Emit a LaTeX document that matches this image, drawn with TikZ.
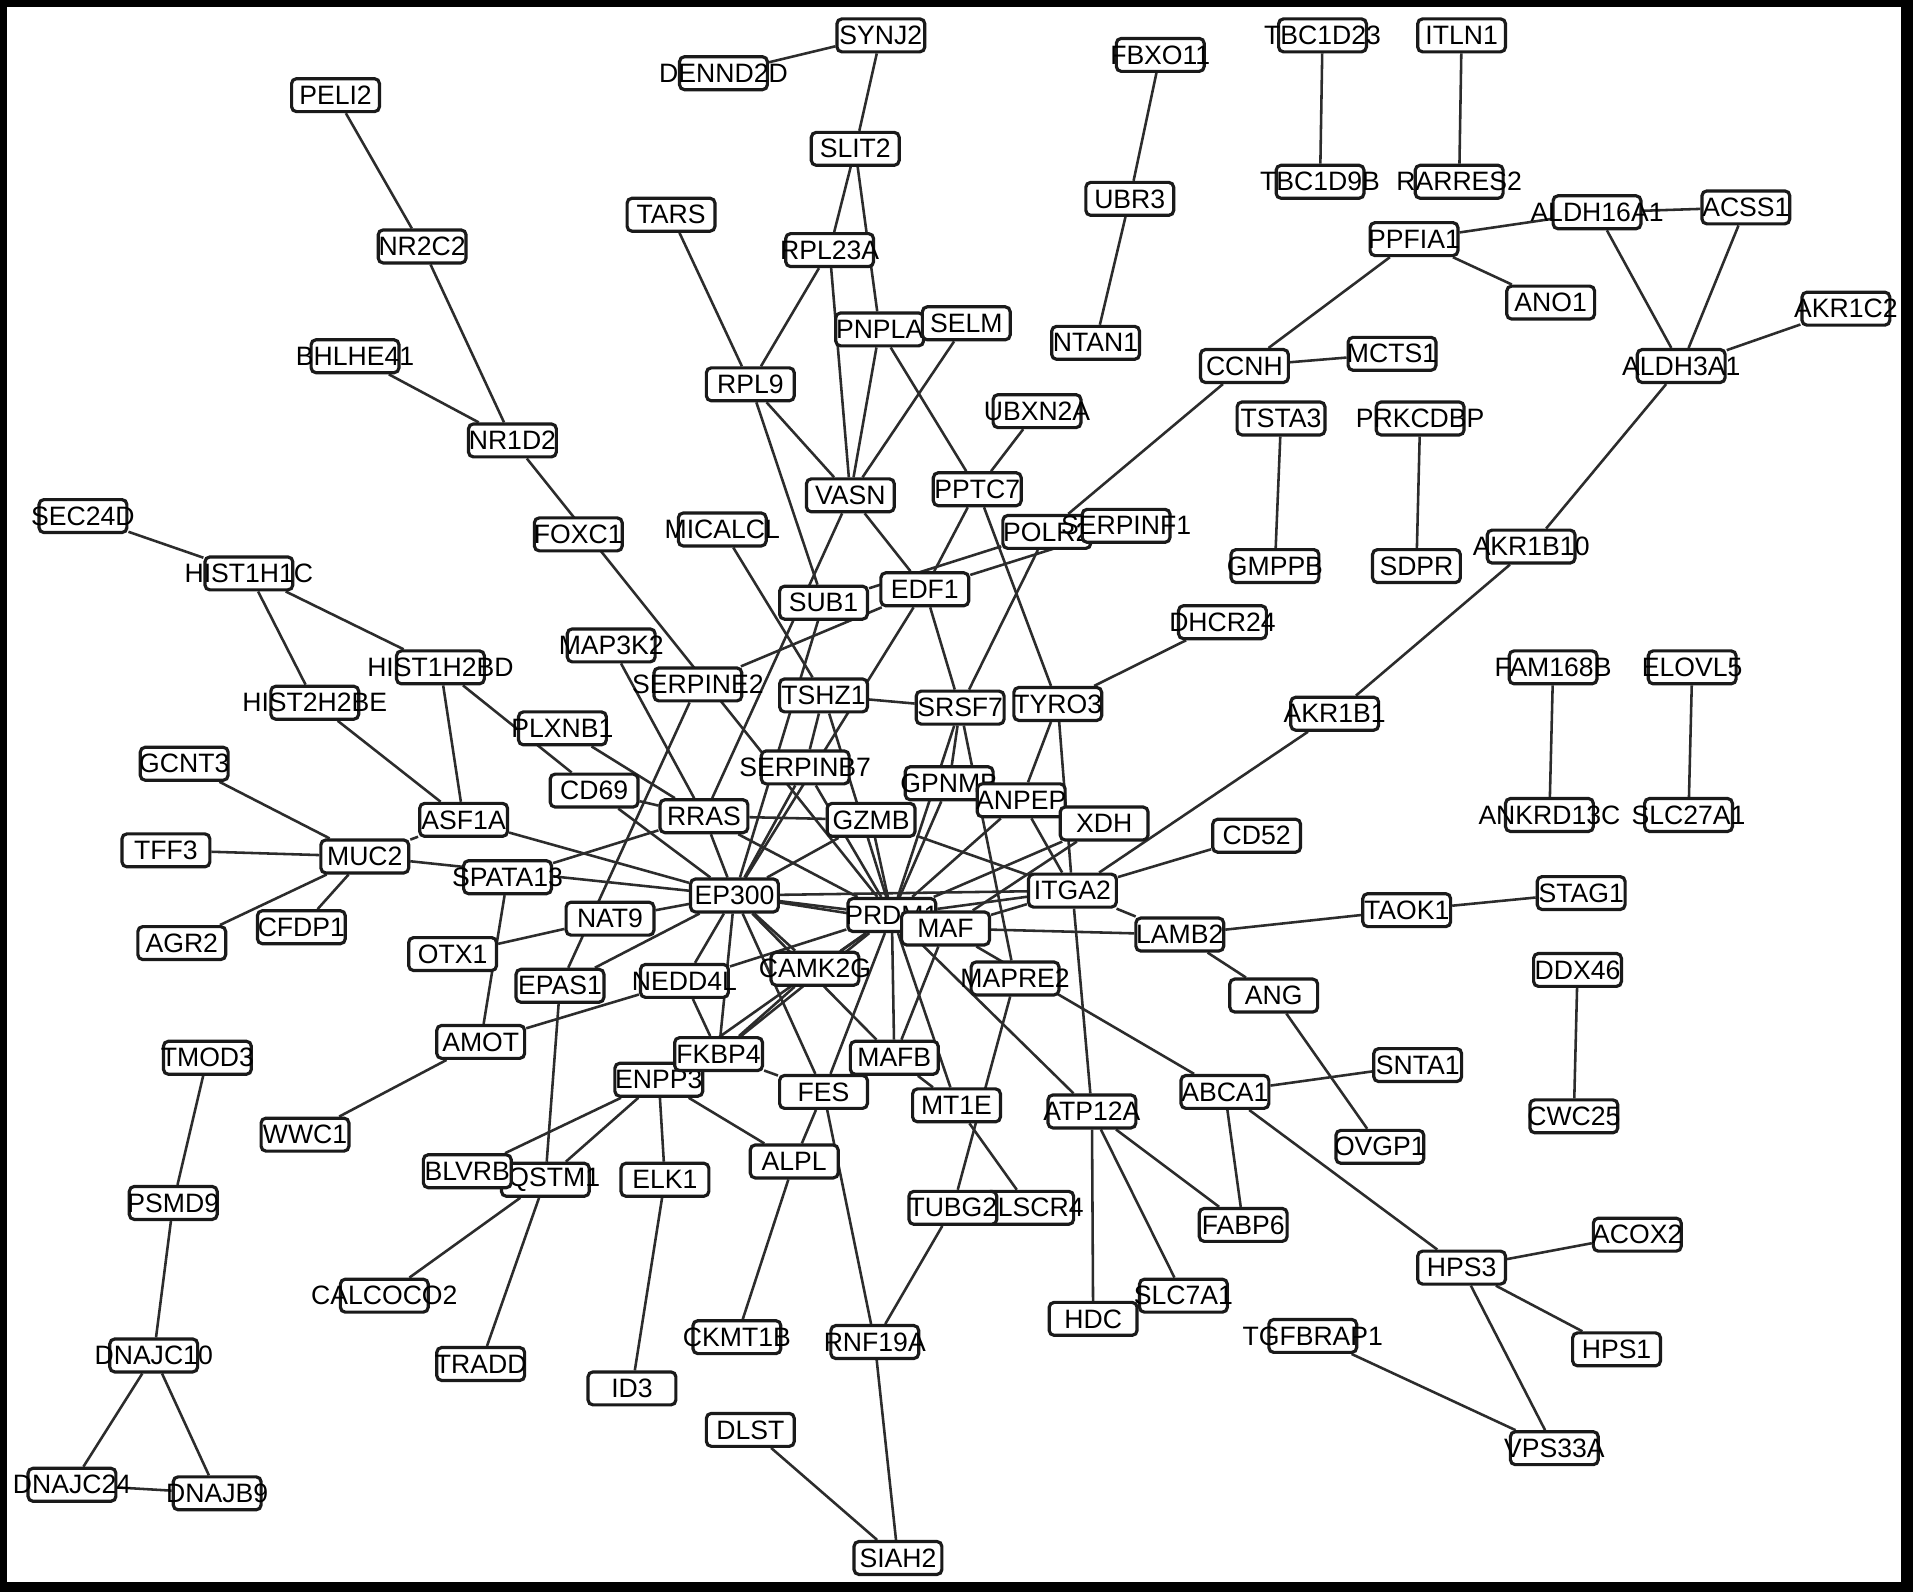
\documentclass[tikz,border=0pt]{standalone}
\usepackage{fontspec}
\setmainfont{Liberation Sans}
\definecolor{linkcol}{HTML}{2C2C2C}
\definecolor{boxcol}{HTML}{1A1A1A}
\pgfdeclarelayer{framelayer}
\pgfdeclarelayer{edgelayer}
\pgfsetlayers{framelayer,edgelayer,main}
\newcommand\genenode[3]{\node[gene] (#1) at (#2) {\makebox[0pt]{#3}};}
\begin{document}
\begin{tikzpicture}[x=0.5pt,y=-0.5pt,
  gene/.style={draw=boxcol, fill=white, rounded corners=2pt, line width=1.3pt,
    minimum width=36pt, minimum height=13.5pt, inner sep=0pt,
    font=\fontsize{10.9}{12}\selectfont, text=black},
  link/.style={draw=linkcol, line width=1.05pt}]
\useasboundingbox (0,0) rectangle (1568,1305);
\begin{pgfonlayer}{framelayer}
\fill[black] (0,0) rectangle (1568,1305);
\fill[white] (6,6) rectangle (1558,1297);
\end{pgfonlayer}
% ---- nodes ----
\genenode{PELI2}{275,78}{PELI2}
\genenode{NR2C2}{346,202}{NR2C2}
\genenode{BHLHE41}{291,292}{BHLHE41}
\genenode{NR1D2}{420,361}{NR1D2}
\genenode{SEC24D}{68,423}{SEC24D}
\genenode{HIST1H1C}{204,470}{HIST1H1C}
\genenode{HIST1H2BD}{361,547}{HIST1H2BD}
\genenode{HIST2H2BE}{258,576}{HIST2H2BE}
\genenode{GCNT3}{151,626}{GCNT3}
\genenode{TFF3}{136,697}{TFF3}
\genenode{MUC2}{299,702}{MUC2}
\genenode{AGR2}{149,773}{AGR2}
\genenode{CFDP1}{247,760}{CFDP1}
\genenode{ASF1A}{380,672}{ASF1A}
\genenode{SPATA13}{416,719}{SPATA13}
\genenode{OTX1}{371,782}{OTX1}
\genenode{NAT9}{500,753}{NAT9}
\genenode{EPAS1}{459,808}{EPAS1}
\genenode{AMOT}{394,854}{AMOT}
\genenode{WWC1}{250,930}{WWC1}
\genenode{TMOD3}{170,867}{TMOD3}
\genenode{PSMD9}{142,986}{PSMD9}
\genenode{DNAJC10}{126,1111}{DNAJC10}
\genenode{DNAJC24}{59,1217}{DNAJC24}
\genenode{DNAJB9}{178,1224}{DNAJB9}
\genenode{SQSTM1}{447,967}{SQSTM1}
\genenode{BLVRB}{383,960}{BLVRB}
\genenode{CALCOCO2}{315,1062}{CALCOCO2}
\genenode{TRADD}{394,1118}{TRADD}
\genenode{ENPP3}{540,885}{ENPP3}
\genenode{FKBP4}{589,864}{FKBP4}
\genenode{ELK1}{545,967}{ELK1}
\genenode{ID3}{518,1138}{ID3}
\genenode{ALPL}{651,952}{ALPL}
\genenode{CKMT1B}{604,1096}{CKMT1B}
\genenode{DLST}{615,1172}{DLST}
\genenode{RNF19A}{717,1100}{RNF19A}
\genenode{SIAH2}{736,1277}{SIAH2}
\genenode{FES}{675,895}{FES}
\genenode{NEDD4L}{561,804}{NEDD4L}
\genenode{CAMK2G}{668,794}{CAMK2G}
\genenode{MAFB}{733,867}{MAFB}
\genenode{MT1E}{784,906}{MT1E}
\node[gene] (LSCR4) at (844,990) {\makebox[0pt]{\kern9pt LSCR4}};
\genenode{TUBG2}{781,990}{TUBG2}
\genenode{ATP12A}{895,911}{ATP12A}
\genenode{HDC}{896,1081}{HDC}
\genenode{SLC7A1}{970,1062}{SLC7A1}
\genenode{FABP6}{1019,1004}{FABP6}
\genenode{ABCA1}{1004,895}{ABCA1}
\genenode{MAPRE2}{832,802}{MAPRE2}
\genenode{EP300}{602,734}{EP300}
\genenode{PRDM1}{731,750}{PRDM1}
\genenode{MAF}{775,761}{MAF}
\genenode{RRAS}{577,669}{RRAS}
\genenode{GZMB}{714,672}{GZMB}
\genenode{CD69}{487,648}{CD69}
\genenode{PLXNB1}{461,597}{PLXNB1}
\genenode{SERPINB7}{660,629}{SERPINB7}
\genenode{GPNMB}{778,642}{GPNMB}
\genenode{ANPEP}{837,656}{ANPEP}
\genenode{XDH}{905,675}{XDH}
\genenode{ITGA2}{879,730}{ITGA2}
\genenode{CD52}{1030,685}{CD52}
\genenode{LAMB2}{967,766}{LAMB2}
\genenode{TAOK1}{1153,746}{TAOK1}
\genenode{STAG1}{1296,732}{STAG1}
\genenode{ANG}{1044,816}{ANG}
\genenode{SNTA1}{1162,873}{SNTA1}
\genenode{OVGP1}{1131,940}{OVGP1}
\genenode{HPS3}{1198,1039}{HPS3}
\genenode{ACOX2}{1342,1012}{ACOX2}
\genenode{HPS1}{1325,1106}{HPS1}
\genenode{VPS33A}{1274,1187}{VPS33A}
\genenode{TGFBRAP1}{1076,1095}{TGFBRAP1}
\genenode{DDX46}{1293,795}{DDX46}
\genenode{CWC25}{1290,915}{CWC25}
\genenode{FAM168B}{1273,547}{FAM168B}
\genenode{ELOVL5}{1387,547}{ELOVL5}
\genenode{ANKRD13C}{1270,668}{ANKRD13C}
\genenode{SLC27A1}{1384,668}{SLC27A1}
\genenode{AKR1B1}{1094,585}{AKR1B1}
\genenode{AKR1B10}{1255,448}{AKR1B10}
\genenode{DHCR24}{1002,510}{DHCR24}
\genenode{TYRO3}{867,577}{TYRO3}
\genenode{SRSF7}{787,580}{SRSF7}
\genenode{TSHZ1}{675,570}{TSHZ1}
\genenode{SERPINE2}{572,561}{SERPINE2}
\genenode{MAP3K2}{501,529}{MAP3K2}
\genenode{FOXC1}{474,438}{FOXC1}
\genenode{MICALCL}{592,434}{MICALCL}
\genenode{SUB1}{675,494}{SUB1}
\genenode{EDF1}{758,483}{EDF1}
\genenode{POLR2}{858,436}{POLR2}
\genenode{SERPINF1}{923,431}{SERPINF1}
\genenode{PPTC7}{801,401}{PPTC7}
\genenode{UBXN2A}{850,337}{UBXN2A}
\genenode{VASN}{697,406}{VASN}
\genenode{RPL9}{615,315}{RPL9}
\genenode{PNPLA}{721,270}{PNPLA}
\genenode{SELM}{792,265}{SELM}
\genenode{RPL23A}{680,205}{RPL23A}
\genenode{TARS}{550,176}{TARS}
\genenode{SLIT2}{701,122}{SLIT2}
\genenode{SYNJ2}{722,29}{SYNJ2}
\genenode{DENND2D}{593,60}{DENND2D}
\genenode{FBXO11}{951,45}{FBXO11}
\genenode{UBR3}{926,163}{UBR3}
\genenode{NTAN1}{898,281}{NTAN1}
\genenode{TBC1D23}{1084,29}{TBC1D23}
\genenode{TBC1D9B}{1082,149}{TBC1D9B}
\genenode{ITLN1}{1198,29}{ITLN1}
\genenode{RARRES2}{1196,149}{RARRES2}
\genenode{PPFIA1}{1159,196}{PPFIA1}
\genenode{ALDH16A1}{1309,174}{ALDH16A1}
\genenode{ACSS1}{1431,170}{ACSS1}
\genenode{ANO1}{1271,248}{ANO1}
\genenode{AKR1C2}{1513,253}{AKR1C2}
\genenode{ALDH3A1}{1378,300}{ALDH3A1}
\genenode{CCNH}{1020,300}{CCNH}
\genenode{MCTS1}{1141,290}{MCTS1}
\genenode{TSTA3}{1050,343}{TSTA3}
\genenode{PRKCDBP}{1164,343}{PRKCDBP}
\genenode{GMPPB}{1045,464}{GMPPB}
\genenode{SDPR}{1161,464}{SDPR}
% ---- edges ----
\begin{pgfonlayer}{edgelayer}
\foreach \a/\b in {SYNJ2/DENND2D, SYNJ2/SLIT2, SLIT2/RPL23A, SLIT2/PNPLA,
  RPL23A/RPL9, RPL23A/VASN, TARS/RPL9, RPL9/VASN, RPL9/SUB1, PNPLA/VASN,
  SELM/VASN, PNPLA/PPTC7, UBXN2A/PPTC7, FBXO11/UBR3, UBR3/NTAN1,
  TBC1D23/TBC1D9B, ITLN1/RARRES2, PPFIA1/ALDH16A1, ALDH16A1/ACSS1,
  PPFIA1/ANO1, PPFIA1/CCNH, ALDH16A1/ALDH3A1, ACSS1/ALDH3A1,
  AKR1C2/ALDH3A1, ALDH3A1/AKR1B10, CCNH/MCTS1, CCNH/POLR2, TSTA3/GMPPB,
  PRKCDBP/SDPR, AKR1B10/AKR1B1, AKR1B1/ITGA2, FAM168B/ANKRD13C,
  ELOVL5/SLC27A1, PELI2/NR2C2, NR2C2/NR1D2, BHLHE41/NR1D2, NR1D2/PRDM1,
  PPTC7/EDF1, PPTC7/TYRO3, POLR2/SUB1, SERPINF1/EDF1, POLR2/SRSF7,
  EDF1/SRSF7, EDF1/EP300, TSHZ1/SRSF7, TSHZ1/SERPINB7, TSHZ1/PRDM1,
  MICALCL/TSHZ1, VASN/RRAS, VASN/EDF1, SERPINE2/EDF1, SERPINE2/EPAS1,
  MAP3K2/RRAS, SERPINB7/EP300, SERPINB7/PRDM1, SUB1/EP300, TYRO3/DHCR24,
  TYRO3/ANPEP, TYRO3/ITGA2, SRSF7/GPNMB, SRSF7/PRDM1, SRSF7/MAPRE2,
  GPNMB/PRDM1, ANPEP/PRDM1, ANPEP/ITGA2, XDH/PRDM1, XDH/MAF,
  ITGA2/PRDM1, ITGA2/EP300, ITGA2/MAF, ITGA2/CD52, ITGA2/LAMB2,
  ITGA2/ATP12A, GZMB/ITGA2, GZMB/PRDM1, GZMB/EP300, RRAS/GZMB,
  RRAS/EP300, RRAS/PRDM1, RRAS/SPATA13, PLXNB1/RRAS, HIST1H2BD/CD69,
  CD69/RRAS, CD69/EP300, EP300/PRDM1, EP300/MAF, MAF/LAMB2, MAF/MAFB,
  MAF/ABCA1, PRDM1/ATP12A, PRDM1/MT1E, PRDM1/MAFB, PRDM1/FES,
  PRDM1/FKBP4, PRDM1/CAMK2G, PRDM1/NEDD4L, PRDM1/ENPP3, MAPRE2/TUBG2,
  MT1E/LSCR4, TUBG2/RNF19A, EP300/ASF1A, EP300/MUC2, EP300/NAT9,
  EP300/EPAS1, EP300/NEDD4L, EP300/CAMK2G, EP300/FKBP4, EP300/FES,
  EP300/MAFB, NEDD4L/FKBP4, CAMK2G/FKBP4, FKBP4/FES, MAFB/MT1E,
  ENPP3/BLVRB, ENPP3/SQSTM1, ENPP3/ELK1, ENPP3/ALPL, FES/ALPL,
  FES/RNF19A, ALPL/CKMT1B, ELK1/ID3, RNF19A/SIAH2, DLST/SIAH2,
  ATP12A/HDC, ATP12A/SLC7A1, ATP12A/FABP6, ABCA1/FABP6, ABCA1/SNTA1,
  ABCA1/HPS3, LAMB2/TAOK1, TAOK1/STAG1, LAMB2/ANG, ANG/OVGP1,
  HPS3/ACOX2, HPS3/HPS1, HPS3/VPS33A, TGFBRAP1/VPS33A, DDX46/CWC25,
  SEC24D/HIST1H1C, HIST1H1C/HIST2H2BE, HIST1H1C/HIST1H2BD,
  HIST1H2BD/ASF1A, HIST2H2BE/ASF1A, GCNT3/MUC2, TFF3/MUC2, AGR2/MUC2,
  CFDP1/MUC2, MUC2/ASF1A, SPATA13/AMOT, OTX1/NAT9, AMOT/NEDD4L,
  AMOT/WWC1, EPAS1/SQSTM1, SQSTM1/CALCOCO2, SQSTM1/TRADD, TMOD3/PSMD9,
  PSMD9/DNAJC10, DNAJC10/DNAJC24, DNAJC10/DNAJB9, DNAJC24/DNAJB9}
  \draw[link] (\a) -- (\b);
\end{pgfonlayer}
\end{tikzpicture}
\end{document}
